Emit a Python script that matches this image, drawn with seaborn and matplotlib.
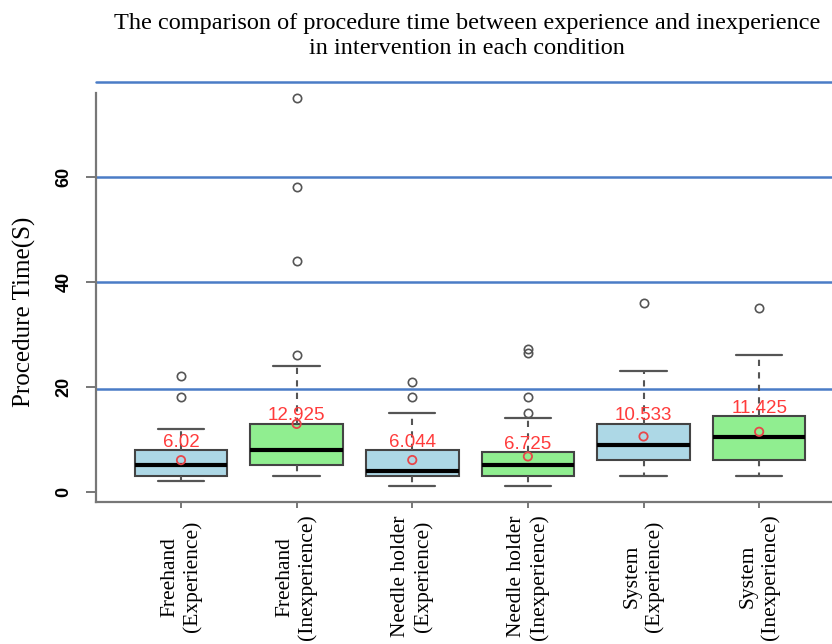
import numpy as np
import pandas as pd
import matplotlib
matplotlib.use("Agg")
import matplotlib.pyplot as plt
import seaborn as sns

groups = ["Freehand\n(Experience)", "Freehand\n(Inexperience)",
          "Needle holder\n(Experience)", "Needle holder\n(Inexperience)",
          "System\n(Experience)", "System\n(Inexperience)"]
q1 = [3, 5, 3, 3, 6, 6]
med = [5, 8, 4, 5, 9, 10.5]
q3 = [8, 13, 8, 7.5, 13, 14.5]
whislo = [2, 3, 1, 1, 3, 3]
whishi = [12, 24, 15, 14, 23, 26]
fliers = [[18, 22], [26, 44, 58, 75], [18, 21], [15, 18, 26.4, 27.3], [36], [35]]
means = [6.02, 12.925, 6.044, 6.725, 10.533, 11.425]
mean_labels = ["6.02", "12.925", "6.044", "6.725", "10.533", "11.425"]
ref_lines = [19.6, 40, 60, 78]
box_colors = ["#add8e6", "#90ee90"] * 3

sns.set_style("white")
plt.rcParams["font.family"] = ["Liberation Sans", "DejaVu Sans"]
plt.rcParams["text.color"] = "black"
plt.rcParams["xtick.labelcolor"] = "black"
plt.rcParams["ytick.labelcolor"] = "black"

fig = plt.figure(figsize=(8.32, 6.44), dpi=100)
ax = fig.add_axes([96 / 832, 1 - 501.7 / 644, 1 - 96 / 832, (501.7 - 80.4) / 644])

stats = []
for i in range(len(groups)):
    stats.append(dict(med=med[i], q1=q1[i], q3=q3[i], whislo=whislo[i],
                      whishi=whishi[i], fliers=fliers[i], label=groups[i]))

bp = ax.bxp(stats, positions=range(len(groups)), widths=0.8, patch_artist=True,
            showfliers=True,
            boxprops=dict(edgecolor="#444444", linewidth=1.5),
            medianprops=dict(color="black", linewidth=3),
            whiskerprops=dict(color="#555555", linewidth=1.5, linestyle=(0, (3, 3))),
            capprops=dict(color="#555555", linewidth=1.6),
            capwidths=0.4,
            flierprops=dict(marker="o", markerfacecolor="none", markeredgecolor="#555555",
                            markersize=6, markeredgewidth=1.2))
for patch, c in zip(bp["boxes"], box_colors):
    patch.set_facecolor(c)

# means as open red circles
df_mean = pd.DataFrame({"pos": range(len(groups)), "mean": means})
sns.scatterplot(data=df_mean, x="pos", y="mean", ax=ax, marker="o", s=36,
                facecolor="none", edgecolor="#e8474a", linewidth=1.3, zorder=5)

for i, lab in enumerate(mean_labels):
    ax.text(i, q3[i] + 0.6, lab, color="#ff3b3b", fontsize=13.5, ha="center",
            va="baseline", zorder=6)

for v in ref_lines:
    ax.axhline(v, color="#4a7cc6", linewidth=1.8, zorder=0.5, clip_on=False)

ax.set_xlim(-0.735, 5.63)
ax.set_ylim(-1.9, 78.4)
ax.set_xlabel("")
ax.set_ylabel("")

for side in ["top", "right"]:
    ax.spines[side].set_visible(False)
for side in ["left", "bottom"]:
    ax.spines[side].set_color("#777777")
    ax.spines[side].set_linewidth(1.6)
ax.spines["left"].set_bounds(-1.9, 76)

ax.set_yticks([0, 20, 40, 60])
ax.set_yticklabels(["0", "20", "40", "60"], rotation=90, va="center",
                   fontsize=13, fontweight="bold")
ax.tick_params(axis="y", left=True, length=7, width=1.4, color="#777777", pad=10)

ax.set_xticks(range(len(groups)))
ax.set_xticklabels(groups, rotation=90, va="center", ha="center",
                   multialignment="center", family="Liberation Serif", fontsize=15.5)
ax.tick_params(axis="x", bottom=True, length=4, width=1.4, color="#777777", pad=50)

fig.text(0.561, 1 - 36 / 644,
         "The comparison of procedure time between experience and inexperience\n"
         "in intervention in each condition",
         ha="center", va="center", family="Liberation Serif", fontsize=17.5,
         linespacing=1.3)
fig.text(24 / 832, 1 - 312 / 644, "Procedure Time(S)", rotation=90, ha="center",
         va="center", family="Liberation Serif", fontsize=18)

fig.savefig("out.png", dpi=100)
